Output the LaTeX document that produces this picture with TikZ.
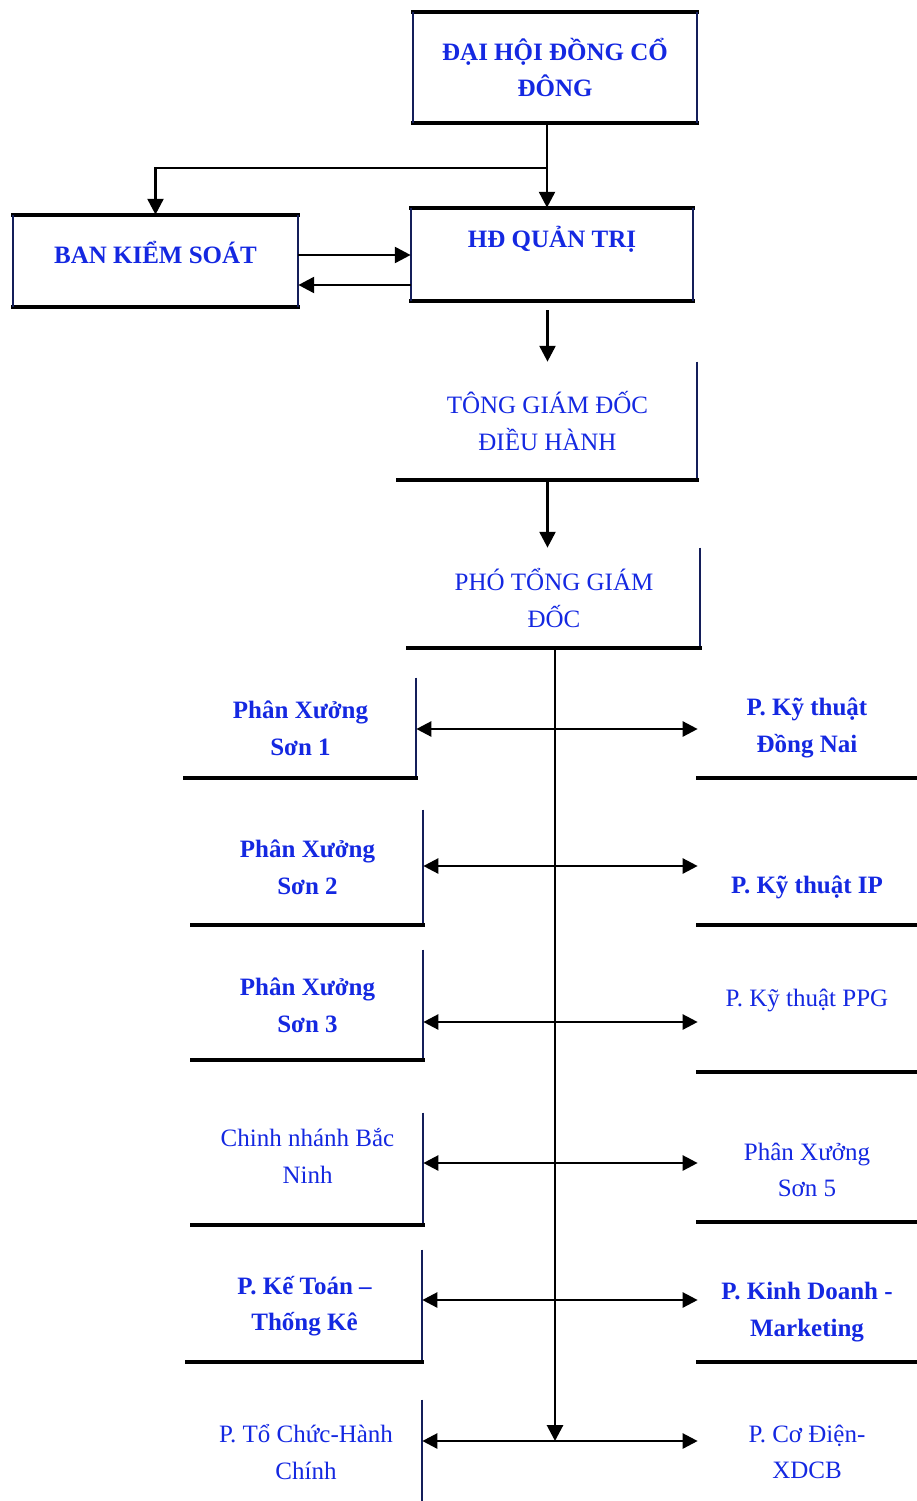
\documentclass[tikz,border=0pt]{standalone}
\usepackage{fontspec}
\setmainfont{Liberation Serif}
\usetikzlibrary{arrows.meta}
\definecolor{chartblue}{RGB}{20,40,225}
\newlength{\pxu}
\setlength{\pxu}{0.6pt}
\tikzset{
    unit/.style={draw=none,inner sep=0pt,align=center,text=chartblue,
        font=\fontsize{15}{22}\selectfont\bfseries},
    unitlight/.style={unit,font=\fontsize{15}{22}\selectfont},
    rule/.style={line width=2.5pt,line cap=rect},
    side/.style={line width=1.2pt,draw={rgb,255:red,20;green,30;blue,90}},
    arrow/.style={line width=1.7pt,-{Triangle[length=9.5pt,width=9.5pt]}},
    biarrow/.style={line width=1.5pt,{Triangle[length=9pt,width=9pt]}-{Triangle[length=9pt,width=9pt]}}
}
\begin{document}
\begin{tikzpicture}[x=\pxu,y=-\pxu]
    \useasboundingbox (0,0) rectangle (916,1501);

    \node [unit,minimum width=284\pxu,minimum height=111\pxu] (dhcd) at (555,67.5)
        {ĐẠI HỘI ĐỒNG CỔ\\ĐÔNG};
    \node [unit,minimum width=282\pxu,minimum height=93\pxu,text depth=21pt] (hdqt) at (552,254.5)
        {HĐ QUẢN TRỊ};
    \node [unit,minimum width=285\pxu,minimum height=92\pxu,text depth=10pt] (bks) at (155.5,261)
        {BAN KIỂM SOÁT};
    \node [unitlight,minimum width=299\pxu,minimum height=118\pxu] (tgd) at (547.5,421)
        {TÔNG GIÁM ĐỐC\\ĐIỀU HÀNH};
    \node [unitlight,minimum width=292\pxu,minimum height=100\pxu] (ptgd) at (554,598)
        {PHÓ TỔNG GIÁM\\ĐỐC};

    \node [unit,minimum width=231\pxu,minimum height=100\pxu] (ps1) at (300.5,728) {Phân Xưởng\\Sơn 1};
    \node [unit,minimum width=231\pxu,minimum height=115\pxu] (ps2) at (307.5,867.5) {Phân Xưởng\\Sơn 2};
    \node [unit,minimum width=231\pxu,minimum height=110\pxu] (ps3) at (307.5,1005) {Phân Xưởng\\Sơn 3};
    \node [unitlight,minimum width=231\pxu,minimum height=112\pxu,text depth=16pt] (cnbn) at (307.5,1169)
        {Chinh nhánh Bắc\\Ninh};
    \node [unit,minimum width=235\pxu,minimum height=112\pxu] (pkt) at (304.5,1306) {P. Kế Toán –\\Thống Kê};
    \node [unitlight,minimum width=232\pxu,minimum height=104\pxu] (ptc) at (306,1452) {P. Tổ Chức-Hành\\Chính};

    \node [unit,minimum width=218\pxu,minimum height=100\pxu] (kt1) at (807,728) {P. Kỹ thuật\\Đồng Nai};
    \node [unit,minimum width=218\pxu,minimum height=76\pxu] (kt2) at (807,887) {P. Kỹ thuật IP};
    \node [unitlight,minimum width=218\pxu,minimum height=144\pxu] (kt3) at (807,1000) {P. Kỹ thuật PPG};
    \node [unitlight,minimum width=218\pxu,minimum height=104\pxu] (psx5) at (807,1170) {Phân Xưởng\\Sơn 5};
    \node [unit,minimum width=218\pxu,minimum height=100\pxu] (kd) at (807,1312) {P. Kinh Doanh -\\Marketing};
    \node [unitlight,minimum width=218\pxu,minimum height=100\pxu] (cd) at (807,1452) {P. Cơ Điện-\\XDCB};

    \foreach \b in {dhcd,hdqt,bks} {
        \draw [rule] (\b.north west) -- (\b.north east);
        \draw [rule] (\b.south west) -- (\b.south east);
        \draw [side] (\b.north west) -- (\b.south west);
        \draw [side] (\b.north east) -- (\b.south east);
    }
    \foreach \b in {tgd,ptgd,ps1,ps2,ps3,cnbn,pkt} {
        \draw [side] (\b.north east) -- (\b.south east);
        \draw [rule] (\b.south east) -- (\b.south west);
    }
    \draw [side] (ptc.north east) -- (ptc.south east);
    \foreach \b in {kt1,kt2,kt3,psx5,kd} {
        \draw [rule] (\b.south west) -- (\b.south east);
    }

    \coordinate (split) at (547,168);
    \draw [arrow] (dhcd.south -| split) -- (split |- hdqt.north);
    \draw [arrow] (split) -| (bks.north);
    \coordinate (q1) at ([yshift=3.6pt]bks.east);
    \coordinate (q2) at ([yshift=-14.4pt]bks.east);
    \draw [arrow] (q1) -- (q1 -| hdqt.west);
    \draw [arrow] (q2 -| hdqt.west) -- (q2);
    \draw [arrow,shorten <=5.4pt] (tgd.north |- hdqt.south) -- (tgd.north);
    \draw [arrow] (tgd.south) -- (tgd.south |- ptgd.north);

    \coordinate (r1) at (555,729);
    \coordinate (r2) at (555,866);
    \coordinate (r3) at (555,1022);
    \coordinate (r4) at (555,1163);
    \coordinate (r5) at (555,1300);
    \coordinate (r6) at (555,1441);
    \draw [arrow] (ptgd.south -| r1) -- (r6);
    \draw [biarrow] (r1 -| ps1.east) -- (r1 -| kt1.west);
    \draw [biarrow] (r2 -| ps2.east) -- (r2 -| kt2.west);
    \draw [biarrow] (r3 -| ps3.east) -- (r3 -| kt3.west);
    \draw [biarrow] (r4 -| cnbn.east) -- (r4 -| psx5.west);
    \draw [biarrow] (r5 -| pkt.east) -- (r5 -| kd.west);
    \draw [biarrow] (r6 -| ptc.east) -- (r6 -| cd.west);
\end{tikzpicture}
\end{document}
